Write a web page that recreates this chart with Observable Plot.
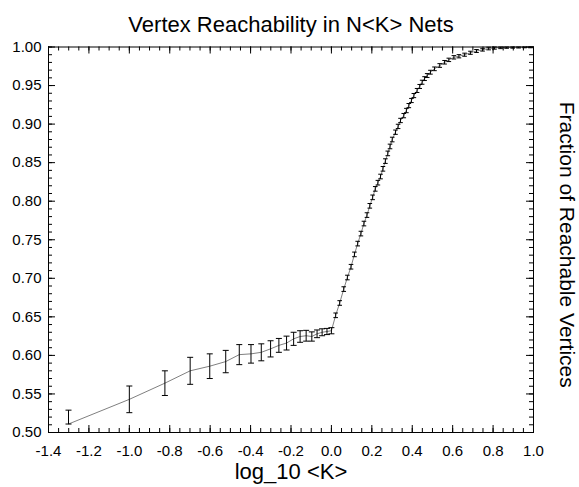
<!DOCTYPE html>
<html><head><meta charset="utf-8">
<script src="https://cdn.jsdelivr.net/npm/d3@7"></script>
<script src="https://cdn.jsdelivr.net/npm/@observablehq/plot@0.6"></script>
<style>body{margin:0;background:#fff}</style>
</head><body><div id="chart"></div>
<script>
const title = "Vertex Reachability in N<K> Nets";
const xLabel = "log_10 <K>";
const yLabel = "Fraction of Reachable Vertices";

const logK = [-1.301,-1.0,-0.824,-0.699,-0.602,-0.523,-0.456,-0.398,-0.347,-0.301,-0.260,-0.222,-0.187,-0.155,-0.125,-0.097,-0.071,-0.046,-0.022,0.0,
0.021,0.041,0.061,0.079,0.097,0.114,0.130,0.146,0.161,0.176,0.190,0.204,0.217,0.230,0.243,0.255,0.267,0.279,0.290,0.301,
0.317,0.330,0.342,0.358,0.371,0.383,0.396,0.408,0.424,0.437,0.449,0.461,0.474,0.490,0.510,0.536,0.560,0.581,0.606,0.631,
0.659,0.688,0.718,0.748,0.778,0.807,0.837,0.867,0.897,0.926,0.956,0.985];

const frac = [0.511,0.543,0.564,0.580,0.586,0.592,0.601,0.602,0.604,0.6085,0.613,0.616,0.6215,0.6245,0.6255,0.6245,0.628,0.630,0.631,0.632,
0.652,0.668,0.686,0.701,0.715,0.731,0.745,0.758,0.771,0.782,0.794,0.805,0.816,0.824,0.832,0.842,0.852,0.862,0.871,0.880,
0.8895,0.897,0.9047,0.911,0.9176,0.924,0.9306,0.937,0.9436,0.9488,0.9543,0.959,0.963,0.9673,0.9717,0.976,0.9802,0.9833,0.9866,0.988,
0.990,0.9925,0.9948,0.9965,0.998,0.9988,0.9994,0.9997,0.9998,0.9999,1.0,1.0];

const errLow = [0.0,0.0173,0.016,0.0175,0.016,0.0145,0.013,0.012,0.011,0.0105,0.009,0.009,0.0085,0.0075,0.007,0.006,0.005,0.0045,0.004,0.004,
0.003,0.003,0.003,0.003,0.003,0.003,0.003,0.003,0.003,0.003,0.003,0.003,0.003,0.003,0.003,0.003,0.003,0.003,0.003,0.003,
0.0028,0.0028,0.0028,0.0028,0.0028,0.0027,0.0027,0.0027,0.0026,0.0026,0.0026,0.0025,0.0025,0.0025,0.0024,0.0024,0.0023,0.0022,0.0022,0.0021,
0.002,0.002,0.0019,0.0018,0.0017,0.0016,0.0015,0.0014,0.0013,0.0012,0.001,0.001];

const errHigh = [0.018,0.0173,0.016,0.0175,0.016,0.0145,0.013,0.012,0.011,0.0105,0.009,0.009,0.0085,0.0075,0.007,0.006,0.005,0.0045,0.004,0.004,
0.003,0.003,0.003,0.003,0.003,0.003,0.003,0.003,0.003,0.003,0.003,0.003,0.003,0.003,0.003,0.003,0.003,0.003,0.003,0.003,
0.0028,0.0028,0.0028,0.0028,0.0028,0.0027,0.0027,0.0027,0.0026,0.0026,0.0026,0.0025,0.0025,0.0025,0.0024,0.0024,0.0023,0.0022,0.0022,0.0021,
0.002,0.002,0.0019,0.0018,0.0017,0.0016,0.0015,0.0014,0.0013,0.0012,0.001,0.001];

const xTicks = [-1.4,-1.2,-1.0,-0.8,-0.6,-0.4,-0.2,0.0,0.2,0.4,0.6,0.8,1.0];
const yTicks = [0.50,0.55,0.60,0.65,0.70,0.75,0.80,0.85,0.90,0.95,1.00];
const xMinor = d3.range(-1.4, 1.0001, 0.05);
const yMinor = d3.range(0.5, 1.0001, 0.01);

const data = logK.map((x, i) => ({x, y: frac[i], lo: frac[i] - errLow[i], hi: Math.min(1, frac[i] + errHigh[i])}));
const caps = data.flatMap(d => [{x: d.x, y: d.lo}, {x: d.x, y: d.hi}]);
const capsLeft = caps.filter(d => d.x <= 0.001);
const capsRight = caps.filter(d => d.x > 0.001);

const capSymbol = {draw(ctx, size) { const r = Math.sqrt(size / Math.PI); ctx.moveTo(-r, 0); ctx.lineTo(r, 0); }};

const W = 579, H = 487, mt = 46.5, mb = 55, ml = 48, mr = 46;
const ph = H - mt - mb, pw = W - ml - mr;
const font = "Liberation Sans, Arial, Helvetica, sans-serif";

const chart = Plot.plot({
  width: W, height: H,
  marginTop: mt, marginBottom: mb, marginLeft: ml, marginRight: mr,
  style: {fontFamily: font, background: "#fff", color: "#000"},
  x: {domain: [-1.4, 1.0], axis: null},
  y: {domain: [0.5, 1.0], axis: null},
  marks: [
    Plot.line(data, {x: "x", y: "y", stroke: "#808080", strokeWidth: 1}),
    Plot.link(data, {x1: "x", x2: "x", y1: "lo", y2: "hi", stroke: "#000", strokeWidth: 1}),
    Plot.dot(capsLeft, {x: "x", y: "y", symbol: capSymbol, r: 3, stroke: "#000", fill: "none", strokeWidth: 1}),
    Plot.dot(capsRight, {x: "x", y: "y", symbol: capSymbol, r: 2.3, stroke: "#000", fill: "none", strokeWidth: 1}),
    // inward ticks
    Plot.ruleX(xTicks, {x: d => d, insetTop: ph - 7, stroke: "#000"}),
    Plot.ruleX(xTicks, {x: d => d, insetBottom: ph - 7, stroke: "#000"}),
    Plot.ruleX(xMinor, {x: d => d, insetTop: ph - 4, stroke: "#000"}),
    Plot.ruleX(xMinor, {x: d => d, insetBottom: ph - 4, stroke: "#000"}),
    Plot.ruleY(yTicks, {y: d => d, insetRight: pw - 7, stroke: "#000"}),
    Plot.ruleY(yTicks, {y: d => d, insetLeft: pw - 7, stroke: "#000"}),
    Plot.ruleY(yMinor, {y: d => d, insetRight: pw - 4, stroke: "#000"}),
    Plot.ruleY(yMinor, {y: d => d, insetLeft: pw - 4, stroke: "#000"}),
    Plot.frame({stroke: "#000", strokeWidth: 1}),
    // tick labels
    Plot.text(xTicks, {x: d => d, text: d => d.toFixed(1), frameAnchor: "bottom", lineAnchor: "middle", textAnchor: "middle", dy: 19, fontSize: 15, fill: "#000", fontFamily: font}),
    Plot.text(yTicks, {y: d => d, text: d => d.toFixed(2), frameAnchor: "left", lineAnchor: "middle", textAnchor: "end", dx: -7, fontSize: 15, fill: "#000", fontFamily: font}),
    // titles
    Plot.text([title], {frameAnchor: "top", lineAnchor: "middle", textAnchor: "middle", dy: -22.5, fontSize: 22, fill: "#000", fontFamily: font}),
    Plot.text([xLabel], {frameAnchor: "bottom", lineAnchor: "middle", textAnchor: "middle", dy: 39, fontSize: 22, fill: "#000", fontFamily: font}),
    Plot.text([yLabel], {frameAnchor: "right", lineAnchor: "middle", textAnchor: "middle", rotate: 90, dx: 33, dy: 5, fontSize: 21, fill: "#000", fontFamily: font})
  ]
});
document.getElementById("chart").appendChild(chart);
</script>
</body></html>
